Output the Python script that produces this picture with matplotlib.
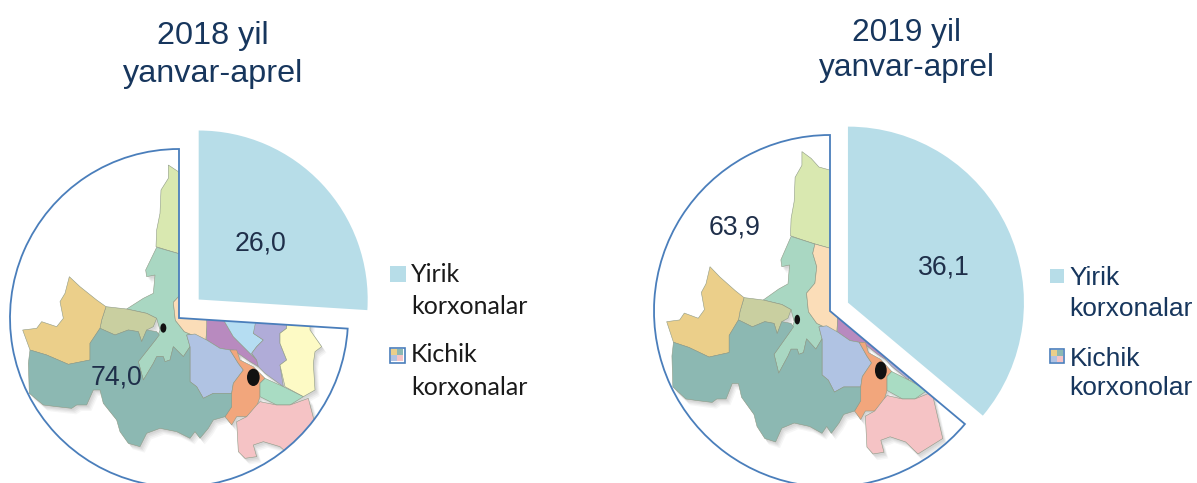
import matplotlib
matplotlib.use("Agg")
import matplotlib.pyplot as plt
from matplotlib.patches import Polygon, Ellipse, Wedge, Rectangle

W, H = 1197, 483
SPLIT = 598.5

# ---- data ----
categories = ["Yirik korxonalar", "Kichik korxonalar"]
values_2018 = [26.0, 74.0]
values_2019 = [36.1, 63.9]
titles = ["2018 yil\nyanvar-aprel", "2019 yil\nyanvar-aprel"]
legend_2018 = [["Yirik", "korxonalar"], ["Kichik", "korxonalar"]]
legend_2019 = [["Yirik", "korxonalar"], ["Kichik", "korxonolar"]]

# ---- styles ----
BLUE = "#B7DDE8"
EDGE = "#4A7EBB"
NAVY = "#1F2F4A"
TITLE = "#17365D"
SANS = "Liberation Sans"

# ---- decorative map artwork that fills the "Kichik" slice ----
MAP = [
    ("#D9E8B0", [(505,105),(505,145),(483,180),(480,250),(470,300),(468,350),(500,360),(547,374),(650,400),(650,200),(600,160),(560,150),(535,125)]),
    ("#A9D7C2", [(470,352),(547,374),(540,401),(553,440),(547,488),(520,517),(526,571),(553,605),(617,632),(585,612),(560,615),(570,650),(550,680),(520,650),(510,690),(495,695),(490,680),(470,680),(460,700),(430,750),(415,695),(470,625),(480,600),(470,565),(440,550),(380,537),(430,505),(460,490),(465,435),(440,440),(437,420)]),
    ("#FBDDB8", [(547,374),(540,401),(553,440),(547,488),(520,517),(526,571),(553,605),(617,632),(625,560),(650,400)]),
    ("#B88ABF", [(620,560),(665,560),(700,620),(770,690),(775,710),(750,695),(700,660),(690,660),(660,655),(620,630)]),
    ("#B5DDF2", [(665,560),(770,560),(770,590),(760,610),(790,630),(770,650),(755,670),(770,690),(700,620)]),
    ("#B0ACD8", [(770,560),(860,560),(860,595),(840,610),(840,640),(860,690),(840,705),(850,770),(795,730),(775,710),(770,690),(755,670),(770,650),(790,630),(760,610)]),
    ("#FDFAC5", [(860,560),(930,560),(930,600),(965,650),(945,665),(940,700),(945,780),(910,800),(855,770),(840,705),(860,690),(840,640),(840,610),(860,595)]),
    ("#B0C3E3", [(560,615),(585,612),(620,630),(660,655),(690,660),(715,700),(730,720),(700,760),(695,790),(640,790),(610,805),(590,770),(570,755),(570,650)]),
    ("#F2A67C", [(690,660),(710,660),(720,690),(760,710),(795,745),(780,760),(780,800),(770,830),(740,860),(710,860),(695,885),(675,860),(695,830),(695,790),(700,760),(730,720),(715,700)]),
    ("#A9DCC3", [(795,745),(850,770),(910,800),(870,825),(830,825),(780,800),(780,760)]),
    ("#F5C3C5", [(710,875),(740,860),(770,825),(780,815),(830,825),(870,825),(925,805),(960,940),(880,985),(840,950),(790,935),(760,945),(770,980),(735,985),(715,965)]),
    ("#C9CFA0", [(318,530),(380,537),(440,550),(470,565),(460,590),(440,600),(425,635),(415,605),(385,600),(345,615),(300,595),(305,570)]),
    ("#EBCF8A", [(208,440),(240,470),(290,510),(318,530),(305,570),(300,595),(270,640),(270,690),(205,703),(140,675),(90,660),(68,600),(110,595),(125,575),(170,590),(190,565),(180,515),(195,490)]),
    ("#8CB8B2", [(90,660),(140,675),(205,703),(270,690),(270,640),(300,595),(345,615),(385,600),(415,605),(425,635),(440,600),(470,605),(478,615),(415,695),(430,750),(460,700),(470,680),(490,680),(495,695),(510,690),(520,650),(550,680),(570,650),(570,755),(590,770),(610,805),(640,790),(695,790),(695,830),(675,860),(640,870),(625,895),(600,925),(585,905),(570,925),(530,905),(480,895),(440,910),(420,950),(385,940),(360,905),(350,870),(310,820),(300,780),(280,780),(260,825),(230,825),(215,835),(170,830),(130,825),(88,790),(85,700)]),
]
DOTS = [((490,594),18,28), ((760,742),38,52)]


def map_left(x, y):
    return x / 3, H - (130 + y / 3)


def map_right(x, y):
    xr = 80 + (x - 68) / 1.077
    yr = 605 + (y - 600) / 0.97
    return 640 + xr / 3, H - (120 + yr / 3)


def draw_map(ax, wedge, tf):
    for off, alpha in [(4, .05), (3, .06), (2, .07), (1, .07)]:
        for _, pts in MAP:
            xy = [tf(x + off * 3 + 2, y + off * 4 + 2) for x, y in pts]
            p = Polygon(xy, fc="#505050", ec="none", alpha=alpha, zorder=2)
            ax.add_patch(p)
            p.set_clip_path(wedge)
    for col, pts in MAP:
        p = Polygon([tf(x, y) for x, y in pts], fc=col, ec="#8E9A86", lw=0.4, zorder=3)
        ax.add_patch(p)
        p.set_clip_path(wedge)
    for (cx, cy), w, h in DOTS:
        x0, y0 = tf(cx, cy)
        x1, y1 = tf(cx + w, cy + h)
        ax.add_patch(Ellipse((x0, y0), abs(x1 - x0), abs(y1 - y0), fc="#111111", ec="none", zorder=4))


def draw_icon(ax, x, y, s):
    ax.add_patch(Rectangle((x, y), s, s, fc="white", ec=EDGE, lw=1.2, zorder=3))
    cols = ["#EBCF8A", "#8CB8B2", "#B0C3E3", "#F5C3C5"]
    n = s / 2 - 1.5
    for i, c in enumerate(cols):
        ax.add_patch(Rectangle((x + 1.5 + (i % 2) * n, y + 1.5 + (1 - i // 2) * n), n, n, fc=c, ec="none", zorder=4))


def draw_panel(ax, xlim, values, center, radius, explode, title, title_cfg,
               labels_xy, legend, lg):
    wedges, _ = ax.pie(values, labels=None, startangle=90, counterclock=False,
                       center=(center[0], H - center[1]), radius=radius,
                       explode=[explode, 0], colors=[BLUE, "white"],
                       wedgeprops=dict(linewidth=0), frame=False)
    ax.set_xlim(*xlim)
    ax.set_ylim(0, H)
    ax.set_axis_off()
    big = wedges[1]
    big.set_zorder(1)
    draw_map(ax, big, map_left if xlim[0] == 0 else map_right)
    ax.add_patch(Wedge(big.center, big.r, big.theta1, big.theta2, fill=False,
                       ec=EDGE, lw=1.3, zorder=6, clip_on=True))
    for v, (lx, ly) in zip(values, labels_xy):
        ax.text(lx, H - ly, f"{v:.1f}".replace(".", ","), ha="center", va="center",
                fontsize=19.2, family=SANS, color=NAVY, zorder=8)
    tx0, ty0, tfs, tls = title_cfg
    ax.text(tx0, H - ty0, title, ha="center", va="center", fontsize=tfs,
            family=SANS, color=TITLE, linespacing=tls)
    ax.add_patch(Rectangle((lg["sx"], H - lg["sy"] - lg["ss"]), lg["ss"], lg["ss"],
                           fc=BLUE, ec="none", zorder=3))
    draw_icon(ax, lg["ix"], H - lg["iy"] - lg["is"], lg["is"])
    rows = legend[0] + legend[1]
    for txt, b in zip(rows, lg["base"]):
        ax.text(lg["tx"], H - b, txt, fontsize=lg["fs"], family=lg["font"], color=lg["col"],
                va="baseline", ha="left")


fig = plt.figure(figsize=(W / 100, H / 100), dpi=100, facecolor="white")
ax1 = fig.add_axes([0, 0, SPLIT / W, 1])
ax2 = fig.add_axes([SPLIT / W, 0, 1 - SPLIT / W, 1])

draw_panel(ax1, (0, SPLIT), values_2018, (179, 318), 169, 27, titles[0], (213, 55, 23.3, 1.38),
           [(260, 243), (117, 377)], legend_2018,
           dict(sx=390, sy=266, ss=16, ix=389.5, iy=347.5, **{"is": 15}, tx=411, fs=18.0, font="Lato",
                col="#1A1A1A", base=[282, 314, 362, 395]))
draw_panel(ax2, (SPLIT, W), values_2019, (830, 311), 176, 19.8, titles[1], (907, 50.5, 22.8, 1.22),
           [(944, 267), (735, 228)], legend_2019,
           dict(sx=1050, sy=269, ss=14, ix=1049.5, iy=348.5, **{"is": 14.5}, tx=1069.5, fs=19.0, font=SANS,
                col=TITLE, base=[285, 316, 366, 395]))

fig.savefig("out.png", dpi=100, facecolor="white")
